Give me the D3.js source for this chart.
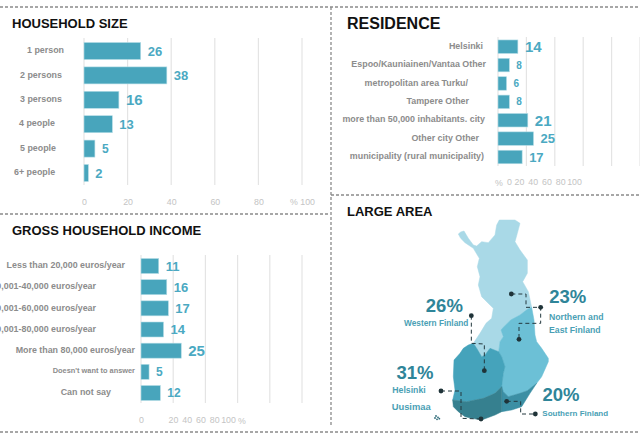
<!DOCTYPE html>
<html>
<head>
<meta charset="utf-8">
<script src="https://cdn.jsdelivr.net/npm/d3@7"></script>
<style>
body { margin: 0; background: #fff; }
svg { display: block; font-family: "Liberation Sans", Arial, sans-serif; }
.title { font-weight: bold; fill: #111; }
.cat { font-weight: bold; fill: #8c8c8c; }
.val { font-weight: bold; fill: #4ba9c2; }
.tick-label { fill: #c4c4c4; font-size: 8.8px; }
.axis path, .axis line { display: none; }
.axis text { fill: #c4c4c4; font-size: 8.8px; font-family: "Liberation Sans", Arial, sans-serif; }
.grid { stroke: #e4e4e4; stroke-width: 1.2; }
.bar { fill: #48a5bc; stroke: #b5dde6; stroke-width: 0.6; }
.divider { stroke: #8a8a8a; stroke-width: 1.3; stroke-dasharray: 3 2; fill: none; }
.leader { stroke: #24393f; stroke-width: 1; stroke-dasharray: 4 3; fill: none; }
.dot { fill: #1f3338; }
.pct { font-weight: bold; fill: #2f8599; font-size: 18.5px; }
.area { font-weight: bold; fill: #4a9fb5; }
</style>
</head>
<body>
<svg id="chart" width="640" height="440"></svg>
<script>
// household size
const sizeCats = ['1 person', '2 persons', '3 persons', '4 people', '5 people', '6+ people'];
const sizeVals = [26, 38, 16, 13, 5, 2];
const sizeFonts = [13, 13, 15, 13, 12, 13];
// residence
const resCats = ['Helsinki', 'Espoo/Kauniainen/Vantaa Other', 'metropolitan area Turku/', 'Tampere Other',
    'more than 50,000 inhabitants. city', 'Other city Other', 'municipality (rural municipality)'];
const resVals = [14, 8, 6, 8, 21, 25, 17];
const resFonts = [15, 10, 10, 10, 15, 13, 13];
// income
const incCats = ['Less than 20,000 euros/year', '20,001-40,000 euros/year', '40,001-60,000 euros/year',
    '60,001-80,000 euros/year', 'More than 80,000 euros/year', "Doesn't want to answer", 'Can not say'];
const incVals = [11, 16, 17, 14, 25, 5, 12];
const incFonts = [13, 13, 13, 13, 15, 12, 12];
const ticks = [0, 20, 40, 60, 80, 100];

// large area callouts
const areaPct = ['26%', '23%', '31%', '20%'];

const svg = d3.select('#chart');

function barPanel(cfg) {
    const x = d3.scaleLinear().domain([0, 100]).range(cfg.xRange);
    const y = d3.scalePoint().domain(cfg.cats).range(cfg.yRange);
    const g = svg.append('g');

    g.selectAll('.grid').data(ticks).join('line')
        .attr('class', 'grid')
        .attr('x1', d => x(d)).attr('x2', d => x(d))
        .attr('y1', cfg.gridY[0]).attr('y2', cfg.gridY[1]);

    g.selectAll('.bar').data(cfg.vals).join('rect')
        .attr('class', 'bar')
        .attr('x', x(0))
        .attr('y', (d, i) => y(cfg.cats[i]) - cfg.barH / 2)
        .attr('width', d => x(d) - x(0))
        .attr('height', cfg.barH);

    g.selectAll('.val').data(cfg.vals).join('text')
        .attr('class', 'val')
        .attr('x', d => x(d) + 7)
        .attr('y', (d, i) => y(cfg.cats[i]))
        .attr('dy', '0.36em')
        .style('font-size', (d, i) => cfg.fonts[i] + 'px')
        .text(d => d);

    g.selectAll('.cat').data(cfg.cats).join('text')
        .attr('class', 'cat')
        .attr('x', (d, i) => cfg.labelX[i])
        .attr('y', d => y(d) - 1)
        .attr('dy', '0.36em')
        .attr('text-anchor', cfg.labelAnchor)
        .style('font-size', (d, i) => (cfg.labelFonts ? cfg.labelFonts[i] : 8.9) + 'px')
        .text(d => d);

    // tick labels are squeezed in two of the panels so they get their own scale
    const tx = d3.scaleLinear().domain(cfg.tickDomain).range(cfg.tickRange);
    svg.append('g')
        .attr('class', 'axis')
        .attr('transform', `translate(0,${cfg.tickY})`)
        .call(d3.axisBottom(tx).tickValues(ticks).tickSize(0).tickPadding(0).tickFormat(cfg.tickFormat));
    if (cfg.extra) {
        g.append('text').attr('class', 'tick-label').attr('x', cfg.extra[0]).attr('y', cfg.tickY + 6.8)
            .attr('text-anchor', 'middle').text('%');
    }
}

barPanel({
    cats: sizeCats, vals: sizeVals, fonts: sizeFonts,
    xRange: [84, 302], yRange: [51, 173], gridY: [38, 185], barH: 17,
    labelX: [27, 20, 20, 19, 20, 14], labelAnchor: 'start',
    tickDomain: [0, 100], tickRange: [84, 302], tickY: 199,
    tickFormat: d => d === 100 ? '% 100' : d
});

barPanel({
    cats: incCats, vals: incVals, fonts: incFonts,
    xRange: [141, 302], yRange: [266, 393], gridY: [255, 403], barH: 15,
    labelX: [125, 96, 96, 96, 135, 135, 111], labelAnchor: 'end',
    labelFonts: [8.9, 8.9, 8.9, 8.9, 8.9, 7.4, 8.9],
    tickDomain: [0, 20, 100], tickRange: [141, 173, 228], tickY: 417,
    tickFormat: d => d, extra: [242]
});

barPanel({
    cats: resCats, vals: resVals, fonts: resFonts,
    xRange: [498, 640], yRange: [46.7, 157], gridY: [37, 166], barH: 13.5,
    labelX: [483, 486, 468, 469, 485, 479, 484], labelAnchor: 'end',
    tickDomain: [0, 20, 100], tickRange: [509, 519, 574], tickY: 179,
    tickFormat: d => d, extra: [499]
});

// titles
const titles = [
    ['HOUSEHOLD SIZE', 12, 28, 13],
    ['GROSS HOUSEHOLD INCOME', 12, 235, 13],
    ['RESIDENCE', 347, 29, 16],
    ['LARGE AREA', 347, 216, 13]
];
svg.selectAll('.title').data(titles).join('text')
    .attr('class', 'title')
    .attr('x', d => d[1]).attr('y', d => d[2])
    .style('font-size', d => d[3] + 'px')
    .text(d => d[0]);

// dashed dividers
const dividers = [
    [0, 7, 640, 7], [0, 214, 330, 214], [331, 7, 331, 425], [331, 195, 640, 195], [0, 432, 640, 432]
];
svg.selectAll('.divider').data(dividers).join('line')
    .attr('class', 'divider')
    .attr('x1', d => d[0]).attr('y1', d => d[1]).attr('x2', d => d[2]).attr('y2', d => d[3]);

const tx = d3.scaleLinear().domain([0, 330]).range([440, 550]);
const ty = d3.scaleLinear().domain([0, 330]).range([220, 330]);
const regionNorth = [[55, 42], [62, 36], [72, 33], [85, 55], [100, 75], [110, 78], [125, 65], [145, 68], [165, 45], [170, 15], [178, 0], [225, 0], [240, 10], [232, 40], [225, 65], [240, 90], [262, 120], [262, 160], [248, 185], [265, 215], [275, 262], [262, 268], [240, 285], [212, 300], [190, 322], [183, 330], [190, 350], [180, 365], [176, 395], [150, 385], [135, 405], [125, 410], [110, 385], [100, 370], [120, 340], [138, 310], [155, 295], [160, 265], [150, 255], [125, 230], [115, 195], [120, 170], [112, 140], [118, 115], [100, 85], [75, 68], [62, 55]];
const regionEast = [[183, 330], [190, 322], [212, 300], [240, 285], [262, 268], [275, 262], [282, 300], [285, 345], [290, 365], [305, 385], [325, 415], [325, 425], [305, 470], [290, 490], [262, 512], [240, 520], [205, 530], [190, 515], [185, 500], [190, 460], [195, 440], [185, 410], [176, 395], [180, 365], [190, 350]];
const regionWest = [[100, 370], [110, 385], [125, 410], [135, 405], [150, 385], [176, 395], [185, 410], [195, 440], [190, 460], [185, 500], [165, 520], [130, 535], [105, 540], [80, 545], [38, 540], [45, 510], [40, 470], [42, 420], [60, 400], [70, 385], [85, 375]];
const regionSouth = [[185, 500], [190, 515], [205, 530], [240, 520], [262, 512], [290, 490], [270, 520], [245, 560], [215, 570], [185, 575]];
const regionUusimaa = [[38, 540], [80, 545], [105, 540], [130, 535], [165, 520], [185, 500], [185, 575], [165, 585], [125, 600], [95, 595], [75, 590], [55, 575], [40, 560]];
const regions = [
    [regionNorth, '#a9d9e7'], [regionEast, '#6cc0d6'], [regionWest, '#45a3bb'],
    [regionSouth, '#3b8fa4'], [regionUusimaa, '#36808f']
];
const islands = [[-12, 588], [-6, 592], [-15, 594], [-2, 596], [-9, 598]];
const outline = d3.line().x(d => tx(d[0])).y(d => ty(d[1])).curve(d3.curveLinearClosed);
svg.append('g').selectAll('path').data(regions).join('path')
    .attr('d', d => outline(d[0]))
    .attr('fill', d => d[1])
    .attr('stroke', d => d[1])
    .attr('stroke-width', 0.5)
    .attr('stroke-linejoin', 'round');
svg.append('g').selectAll('circle').data(islands).join('circle')
    .attr('cx', d => tx(d[0])).attr('cy', d => ty(d[1])).attr('r', 0.9).attr('fill', '#2f6c7a');

// callout leaders and texts, in units of the larger map crop
const mx = d3.scaleLinear().domain([0, 690]).range([390, 620]);
const my = d3.scaleLinear().domain([0, 645]).range([220, 435]);
const leaders = [
    [[244, 287], [244, 370], [283, 372], [283, 452]],
    [[364, 222], [408, 222], [408, 262], [452, 262], [452, 310], [387, 310], [387, 358]],
    [[153, 513], [213, 513], [213, 595], [273, 597]],
    [[350, 544], [392, 544], [392, 582], [436, 582]]
];
const leaderLine = d3.line().x(d => mx(d[0])).y(d => my(d[1]));
svg.append('g').selectAll('path').data(leaders).join('path')
    .attr('class', 'leader')
    .attr('d', leaderLine);
svg.append('g').selectAll('circle').data(leaders.flatMap(l => [l[0], l[l.length - 1]])).join('circle')
    .attr('class', 'dot')
    .attr('cx', d => mx(d[0])).attr('cy', d => my(d[1])).attr('r', 2.4);
svg.append('circle').attr('class', 'dot').attr('cx', mx(452)).attr('cy', my(262)).attr('r', 2.4);

const pctPos = [[163, 277], [533, 250], [75, 476], [513, 544]];
svg.selectAll('.pct').data(areaPct).join('text')
    .attr('class', 'pct')
    .attr('x', (d, i) => mx(pctPos[i][0])).attr('y', (d, i) => my(pctPos[i][1]))
    .attr('text-anchor', 'middle')
    .text(d => d);

const areaLabels = [
    ['Western Finland', 42, 319, 8.3], ['Northern and', 477, 299, 8.7], ['East Finland', 477, 338, 8.7],
    ['Helsinki', 7, 520, 8.7], ['Uusimaa', 5, 570, 9.4], ['Southern Finland', 457, 588, 8]
];
svg.selectAll('.area').data(areaLabels).join('text')
    .attr('class', 'area')
    .attr('x', d => mx(d[1])).attr('y', d => my(d[2]))
    .style('font-size', d => d[3] + 'px')
    .text(d => d[0]);
</script>
</body>
</html>
